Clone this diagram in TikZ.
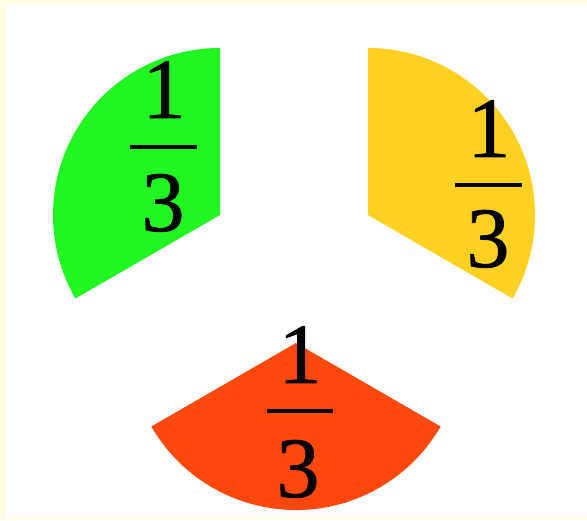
\documentclass[tikz,border=0pt]{standalone}
\usepackage{fontspec}
\setmainfont{Liberation Serif}
\newfontfamily\digitfont[FakeBold=0.9]{Liberation Serif}
\definecolor{frame}{RGB}{255,251,228}
\definecolor{sgreen}{RGB}{34,246,34}
\definecolor{syellow}{RGB}{253,208,34}
\definecolor{sred}{RGB}{255,72,14}
\tikzset{
  digit/.style={inner sep=0pt, anchor=base, font=\digitfont\fontsize{86}{86}\selectfont},
  fracbar/.style={line width=4.6pt}
}
\begin{document}
\begin{tikzpicture}[x=1pt,y=1pt]
\fill[frame] (0,0) rectangle (587,520);
\fill[white] (6,3) rectangle (587,515);
\useasboundingbox (0,0) rectangle (587,520);
% sectors
\fill[sgreen] (220,305) -- ++(90:167) arc[start angle=90,end angle=210,radius=167] -- cycle;
\fill[syellow] (368,305) -- ++(-30:167) arc[start angle=-30,end angle=90,radius=167] -- cycle;
\fill[sred] (296,177) -- ++(210:167) arc[start angle=210,end angle=330,radius=167] -- cycle;
% green fraction
\node[digit] (g1) at (164,402) {1};
\coordinate (gbl) at (130,373);
\coordinate (gbr) at (197,373);
\draw[fracbar] (gbl) -- (gbr);
\node[digit] (g3) at (163,289) {3};
% yellow fraction
\node[digit] (y1) at (489,363) {1};
\coordinate (ybl) at (455,335);
\coordinate (ybr) at (522,335);
\draw[fracbar] (ybl) -- (ybr);
\node[digit] (y3) at (488,253) {3};
% red fraction
\node[digit] (r1) at (300,137) {1};
\coordinate (rbl) at (267,109);
\coordinate (rbr) at (333,109);
\draw[fracbar] (rbl) -- (rbr);
\node[digit] (r3) at (298,23) {3};
\end{tikzpicture}
\end{document}
